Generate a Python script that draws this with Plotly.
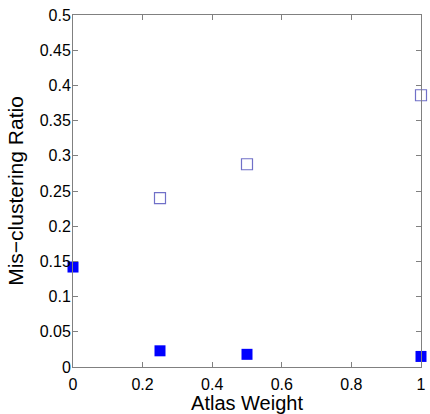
import plotly.graph_objects as go

weights_open = [0.25, 0.5, 1.0]
ratio_open = [0.240, 0.288, 0.386]
weights_filled = [0.0, 0.25, 0.5, 1.0]
ratio_filled = [0.142, 0.023, 0.018, 0.015]
x_ticks = [0, 0.2, 0.4, 0.6, 0.8, 1]
x_tick_labels = ["0", "0.2", "0.4", "0.6", "0.8", "1"]
y_ticks = [0, 0.05, 0.1, 0.15, 0.2, 0.25, 0.3, 0.35, 0.4, 0.45, 0.5]
y_tick_labels = ["0", "0.05", "0.1", "0.15", "0.2", "0.25", "0.3", "0.35", "0.4", "0.45", "0.5"]

FONT = "Liberation Sans, Arial, sans-serif"

fig = go.Figure()
fig.add_trace(go.Scatter(
    x=weights_open, y=ratio_open, mode="markers",
    marker=dict(symbol="square-open", size=11, color="#7070c8", line=dict(width=1.2)),
    cliponaxis=False, showlegend=False))
fig.add_trace(go.Scatter(
    x=weights_filled, y=ratio_filled, mode="markers",
    marker=dict(symbol="square", size=11, color="#0000ff"),
    cliponaxis=False, showlegend=False))

axis_common = dict(
    showgrid=False, zeroline=False, showline=True, linecolor="#808080", linewidth=1,
    mirror="ticks", ticks="inside", ticklen=5, tickcolor="#808080",
    tickfont=dict(family=FONT, size=16, color="#000000"),
    ticklabeloverflow="allow",
)
fig.update_xaxes(range=[0, 1], tickvals=x_ticks, ticktext=x_tick_labels,
                 ticklabelstandoff=3,
                 title=dict(text="Atlas Weight", font=dict(family=FONT, size=20, color="#000"), standoff=0),
                 **axis_common)
fig.update_yaxes(range=[0, 0.5], tickvals=y_ticks, ticktext=y_tick_labels,
                 ticklabelstandoff=-2,
                 title=dict(text="Mis−clustering Ratio", font=dict(family=FONT, size=21, color="#000"), standoff=10),
                 **axis_common)
fig.update_layout(
    width=430, height=414,
    margin=dict(l=73, r=4, t=15, b=47),
    plot_bgcolor="white", paper_bgcolor="white",
)
fig.write_html("out.html", config={"displayModeBar": False},
               post_script="document.body.style.margin='0';")
